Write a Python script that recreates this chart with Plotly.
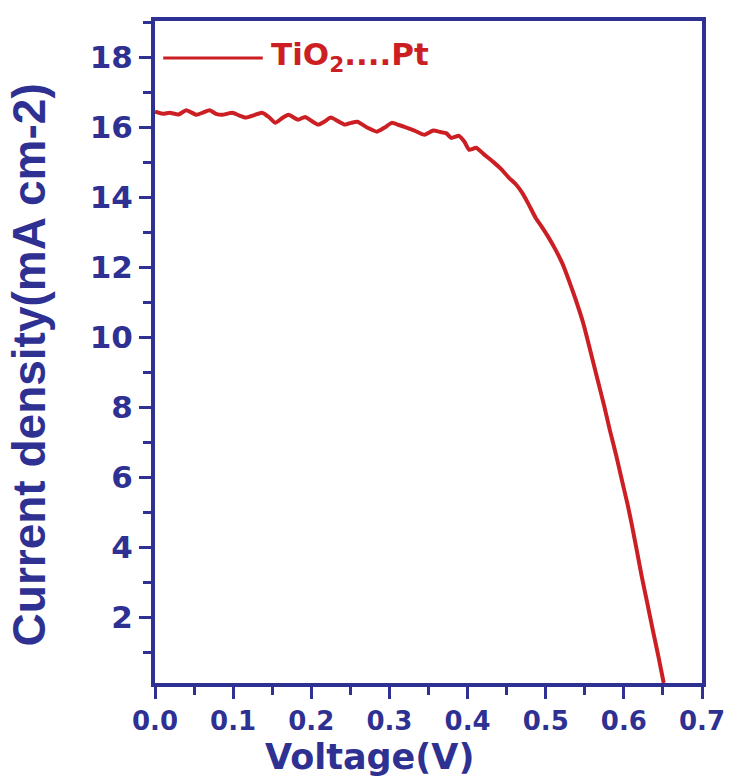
import plotly.graph_objects as go

voltage = [0.000, 0.010, 0.019, 0.030, 0.040, 0.053, 0.062, 0.070, 0.078, 0.086,
           0.099, 0.108, 0.116, 0.127, 0.137, 0.146, 0.154, 0.163, 0.171, 0.183,
           0.192, 0.200, 0.209, 0.217, 0.225, 0.234, 0.243, 0.251, 0.259, 0.272,
           0.284, 0.294, 0.303, 0.312, 0.320, 0.332, 0.345, 0.356, 0.365, 0.373,
           0.379, 0.389, 0.396, 0.402, 0.411, 0.421, 0.432, 0.443, 0.453, 0.462,
           0.470, 0.478, 0.487, 0.495, 0.503, 0.512, 0.521, 0.529, 0.537, 0.548,
           0.557, 0.566, 0.575, 0.582, 0.590, 0.597, 0.605, 0.611, 0.617, 0.623,
           0.630, 0.637, 0.644, 0.651]
current = [16.44, 16.38, 16.41, 16.36, 16.48, 16.35, 16.42, 16.48, 16.38, 16.35,
           16.41, 16.33, 16.27, 16.34, 16.41, 16.28, 16.12, 16.26, 16.35, 16.21,
           16.29, 16.18, 16.07, 16.16, 16.27, 16.17, 16.07, 16.12, 16.15, 15.98,
           15.87, 15.99, 16.12, 16.06, 16.00, 15.90, 15.78, 15.90, 15.86, 15.82,
           15.69, 15.75, 15.58, 15.35, 15.41, 15.22, 15.02, 14.80, 14.55, 14.36,
           14.12, 13.80, 13.41, 13.15, 12.87, 12.52, 12.12, 11.66, 11.16, 10.40,
           9.62, 8.82, 8.02, 7.35, 6.64, 5.96, 5.20, 4.55, 3.86, 3.15,
           2.40, 1.64, 0.90, 0.12]

series_name = "TiO<sub>2</sub>....Pt"
x_ticks = [0.0, 0.1, 0.2, 0.3, 0.4, 0.5, 0.6, 0.7]
y_ticks = [2, 4, 6, 8, 10, 12, 14, 16, 18]

NAVY = "#2E3192"
RED = "#CC1F24"

fig = go.Figure()
fig.add_trace(go.Scatter(x=voltage, y=current, mode="lines",
                         line=dict(color=RED, width=4, shape="spline", smoothing=0.5),
                         name=series_name, showlegend=False))

axis_common = dict(showline=True, linewidth=4, linecolor=NAVY, mirror=True,
                   showgrid=False, zeroline=False, ticks="outside",
                   tickwidth=3, tickcolor=NAVY, ticklen=12)

fig.update_xaxes(range=[0, 0.7], tickvals=x_ticks,
                 ticktext=[f"{v:.1f}" for v in x_ticks],
                 tickfont=dict(family="DejaVu Sans", size=26, color=NAVY, weight="bold"),
                 minor=dict(ticks="outside", dtick=0.05, tick0=0, ticklen=8,
                            tickwidth=3, tickcolor=NAVY),
                 **axis_common)
fig.update_yaxes(range=[0.12, 19.03], tickvals=y_ticks,
                 tickfont=dict(family="DejaVu Sans", size=31, color=NAVY, weight="bold"),
                 minor=dict(ticks="outside", dtick=1, tick0=0, ticklen=8,
                            tickwidth=3, tickcolor=NAVY),
                 **axis_common)

# legend drawn manually (long sample line as in the original)
fig.add_shape(type="line", xref="paper", yref="paper", x0=0.015, x1=0.197,
              y0=0.944, y1=0.944, line=dict(color=RED, width=3))
fig.add_annotation(text=series_name, xref="paper", yref="paper", x=0.208, y=0.946,
                   xanchor="left", yanchor="middle", showarrow=False,
                   font=dict(family="DejaVu Sans", size=31, color=RED, weight="bold"))

# axis titles
fig.add_annotation(text="Voltage(V)", xref="paper", yref="paper", x=0.393, y=-0.112,
                   xanchor="center", yanchor="middle", showarrow=False,
                   font=dict(family="DejaVu Sans", size=35, color=NAVY, weight="bold"))
fig.add_annotation(text="Current density(mA cm-2)", xref="paper", yref="paper",
                   x=-0.23, y=0.48, xanchor="center", yanchor="middle", textangle=-90,
                   showarrow=False,
                   font=dict(family="Liberation Sans", size=46, color=NAVY, weight="bold"))

fig.update_layout(width=737, height=778,
                  margin=dict(l=155, r=28, t=21, b=95),
                  plot_bgcolor="white", paper_bgcolor="white")

fig.write_html("out.html")
